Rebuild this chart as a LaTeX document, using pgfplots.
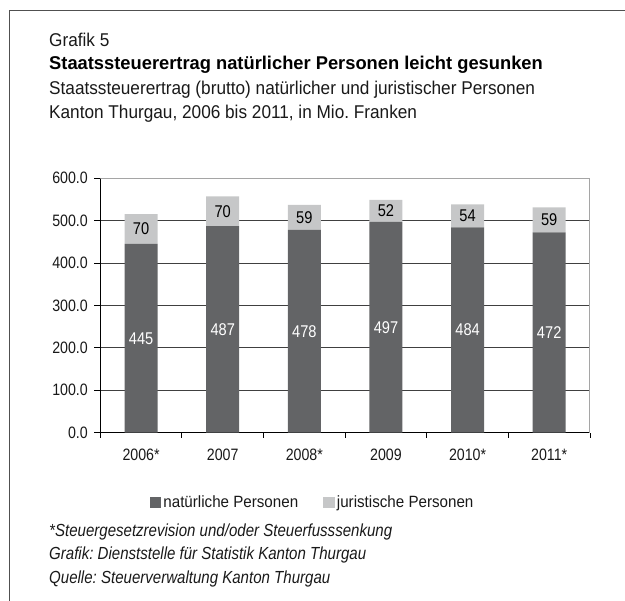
\documentclass[border=0pt]{standalone}
\usepackage{fontspec}
\setmainfont{Liberation Sans}[FakeStretch=0.93, BoldFeatures={FakeStretch=0.99}, ItalicFeatures={FakeStretch=0.86}]
\newfontfamily\numfont{Liberation Sans}[FakeStretch=0.86]
\usepackage{pgfplots}
\usepackage{pgfplotstable}
\pgfplotsset{compat=1.18}
\frenchspacing

\definecolor{natdark}{RGB}{99,100,102}
\definecolor{jurlight}{RGB}{198,199,200}
\definecolor{gridcol}{RGB}{64,64,64}
\definecolor{framecol}{RGB}{80,80,80}
\definecolor{boxcol}{RGB}{165,165,165}
\definecolor{textcol}{RGB}{25,25,25}

% Staatssteuerertrag in Mio. Franken
\pgfplotstableread{
x nat jur
0 445 70
1 487 70
2 478 59
3 497 52
4 484 54
5 472 59
}\steuer

% value labels inside each stacked segment
\pgfplotsset{
  centered labels/.style={
    nodes near coords,
    nodes near coords align={center},
    every node near coord/.append style={
      font=\numfont\fontsize{17}{20}\selectfont, text=#1, inner sep=0pt}
  }
}

\begin{document}
\begin{tikzpicture}[x=1pt,y=1pt]
\path[use as bounding box] (0,0) rectangle (625,601);
\draw[framecol, line width=1pt] (625,590) -- (9,590) -- (9,0);

\node[anchor=base west, inner sep=0pt, text=textcol, font=\fontsize{18.5}{22}\selectfont] at (49,554.3) {Grafik 5};
\node[anchor=base west, inner sep=0pt, text=black, font=\fontsize{18.5}{22}\selectfont\bfseries] at (49,531) {Staatssteuerertrag natürlicher Personen leicht gesunken};
\node[anchor=base west, inner sep=0pt, text=textcol, font=\fontsize{18.5}{22}\selectfont] at (49,506.7) {Staatssteuerertrag (brutto) natürlicher und juristischer Personen};
\node[anchor=base west, inner sep=0pt, text=textcol, font=\fontsize{18.5}{22}\selectfont] at (49,482.5) {Kanton Thurgau, 2006 bis 2011, in Mio. Franken};

\begin{axis}[
  at={(100.3pt,168.3pt)}, anchor=south west,
  scale only axis, width=489.7pt, height=254.5pt,
  ybar stacked, bar width=33pt,
  xmin=-0.5, xmax=5.5, ymin=0, ymax=600,
  xtick={0,...,5},
  xticklabels={2006*,2007,2008*,2009,2010*,2011*},
  minor xtick={-0.5,0.5,...,5.5},
  major x tick style={draw=none},
  ytick={0,100,...,500},
  extra y ticks={600},
  extra y tick style={grid=none},
  ymajorgrids,
  major grid style={gridcol, line width=0.9pt},
  axis x line*=bottom, axis y line*=left,
  axis line style={black, line width=1pt},
  tick style={black, line width=0.9pt},
  tick align=outside,
  major tick length=6pt, minor tick length=5pt,
  /pgf/number format/assume math mode=true,
  yticklabel style={font=\numfont\fontsize{16.5}{20}\selectfont, xshift=-3pt,
    /pgf/number format/.cd, fixed, fixed zerofill, precision=1},
  xticklabel style={font=\numfont\fontsize{16.5}{20}\selectfont, yshift=-7pt},
  tick label style={text=textcol},
  point meta=explicit,
  legend style={draw=none, fill=none, at={(0.4335,-0.274)}, anchor=center,
    font=\fontsize{16.3}{19}\selectfont, text=textcol,
    /tikz/every even column/.append style={column sep=23pt}},
  legend columns=2,
  legend image code/.code={\fill[#1, draw=none] (0pt,-5.85pt) rectangle (11.7pt,5.85pt);},
]
\addplot[fill=natdark, draw=none, centered labels=white]
  table[x=x, y=nat, meta=nat] {\steuer};
\addplot[fill=jurlight, draw=none, centered labels=black]
  table[x=x, y=jur, meta=jur] {\steuer};
\legend{natürliche Personen, juristische Personen}
\draw[boxcol, line width=1pt] (rel axis cs:0,1) -- (rel axis cs:1,1) -- (rel axis cs:1,0);
\end{axis}

\node[anchor=base west, inner sep=0pt, text=textcol, font=\fontsize{17.5}{21}\selectfont\itshape] at (49,64.3) {*Steuergesetzrevision und/oder Steuerfusssenkung};
\node[anchor=base west, inner sep=0pt, text=textcol, font=\fontsize{17.5}{21}\selectfont\itshape] at (49,41) {Grafik: Dienststelle für Statistik Kanton Thurgau};
\node[anchor=base west, inner sep=0pt, text=textcol, font=\fontsize{17.5}{21}\selectfont\itshape] at (49,17.7) {Quelle: Steuerverwaltung Kanton Thurgau};
\end{tikzpicture}
\end{document}
